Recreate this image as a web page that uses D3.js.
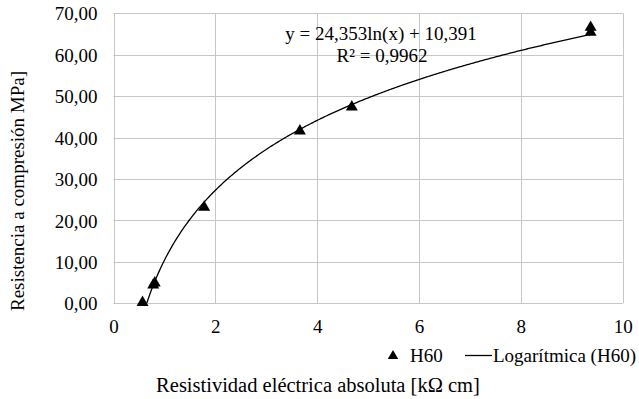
<!DOCTYPE html>
<html><head><meta charset="utf-8">
<script src="https://cdn.jsdelivr.net/npm/d3@7"></script>
<style>body{margin:0;background:#fff}svg{display:block}</style>
</head><body><svg id="c" width="639" height="399"></svg>
<script>
const xValues = [0.57, 0.78, 0.81, 1.78, 3.66, 4.68, 9.37, 9.37];
const yValues = [0.2, 4.4, 4.9, 23.2, 41.6, 47.4, 65.4, 66.6];
const xTicks = [0, 2, 4, 6, 8, 10];
const yTicks = [0, 10, 20, 30, 40, 50, 60, 70];
const fitA = 24.353, fitB = 10.391;
const eqLabel = "y = 24,353ln(x) + 10,391";
const r2Label = "R\u00B2 = 0,9962";
const seriesName = "H60";
const trendName = "Logarítmica (H60)";
const xTitle = "Resistividad eléctrica absoluta [kΩ cm]";
const yTitle = "Resistencia a compresión MPa]";

const FONT = "'Liberation Serif', 'Times New Roman', serif";
const svg = d3.select("#c").style("font-family", FONT);
const L = 113.5, R = 622.7, T = 13.3, B = 303.3;
const x = d3.scaleLinear().domain([0, 10]).range([L, R]);
const y = d3.scaleLinear().domain([0, 70]).range([B, T]);
const fs = 19;
const grid = "#c6c6c6";

svg.append("defs").append("clipPath").attr("id", "clip")
  .append("rect").attr("x", L).attr("y", T).attr("width", R - L).attr("height", B - T);

const g = svg.append("g");
g.selectAll(".gy").data(yTicks).enter().append("line")
  .attr("x1", L).attr("x2", R).attr("y1", d => Math.round(y(d)) + 0.5).attr("y2", d => Math.round(y(d)) + 0.5)
  .attr("stroke", grid).attr("stroke-width", 1);
g.selectAll(".gx").data(xTicks).enter().append("line")
  .attr("y1", T).attr("y2", B).attr("x1", d => Math.round(x(d)) + 0.5).attr("x2", d => Math.round(x(d)) + 0.5)
  .attr("stroke", grid).attr("stroke-width", 1);

const fmt = d => d3.format(".2f")(d).replace(".", ",");
const ya = svg.append("g").attr("transform", `translate(${L},0)`)
  .call(d3.axisLeft(y).tickValues(yTicks).tickFormat(fmt).tickSize(0).tickPadding(16));
ya.attr("font-family", null).attr("font-size", null);
ya.select(".domain").remove();
ya.selectAll("text").style("font-family", FONT).style("font-size", fs + "px").attr("dy", "0.35em");
const xa = svg.append("g").attr("transform", `translate(0,${B})`)
  .call(d3.axisBottom(x).tickValues(xTicks).tickFormat(d3.format("d")).tickSize(0).tickPadding(16));
xa.attr("font-family", null).attr("font-size", null);
xa.select(".domain").remove();
xa.selectAll("text").style("font-family", FONT).style("font-size", fs + "px");

const xs = d3.range(0, 401).map(i => d3.min(xValues) + (d3.max(xValues) - d3.min(xValues)) * i / 400);
const line = d3.line().x(d => x(d)).y(d => y(fitA * Math.log(d) + fitB));
svg.append("path").attr("d", line(xs)).attr("fill", "none").attr("stroke", "#000")
  .attr("stroke-width", 1.3).attr("clip-path", "url(#clip)");

const tri = d3.symbol().type(d3.symbolTriangle).size(62);
svg.selectAll(".pt").data(xValues.map((v, i) => [v, yValues[i]])).enter().append("path")
  .attr("d", tri).attr("transform", d => `translate(${x(d[0])},${y(d[1])})`).attr("fill", "#000");

function txt(xp, yp, s, anchor, size) {
  return svg.append("text").attr("x", xp).attr("y", yp).attr("text-anchor", anchor || "start")
    .style("font-family", FONT).style("font-size", (size || fs) + "px").attr("fill", "#000").text(s);
}
txt(381, 40, eqLabel, "middle");
txt(382, 61.5, r2Label, "middle");

svg.append("path").attr("d", d3.symbol().type(d3.symbolTriangle).size(48)).attr("transform", "translate(393,356)").attr("fill", "#000");
txt(410, 362, seriesName);
svg.append("line").attr("x1", 465).attr("x2", 492).attr("y1", 355.5).attr("y2", 355.5).attr("stroke", "#000").attr("stroke-width", 1.3);
txt(493, 362, trendName);

txt(318, 392, xTitle, "middle", 20.5);
txt(0, 0, yTitle, "middle").attr("transform", "translate(24,191) rotate(-90)");
</script></body></html>
